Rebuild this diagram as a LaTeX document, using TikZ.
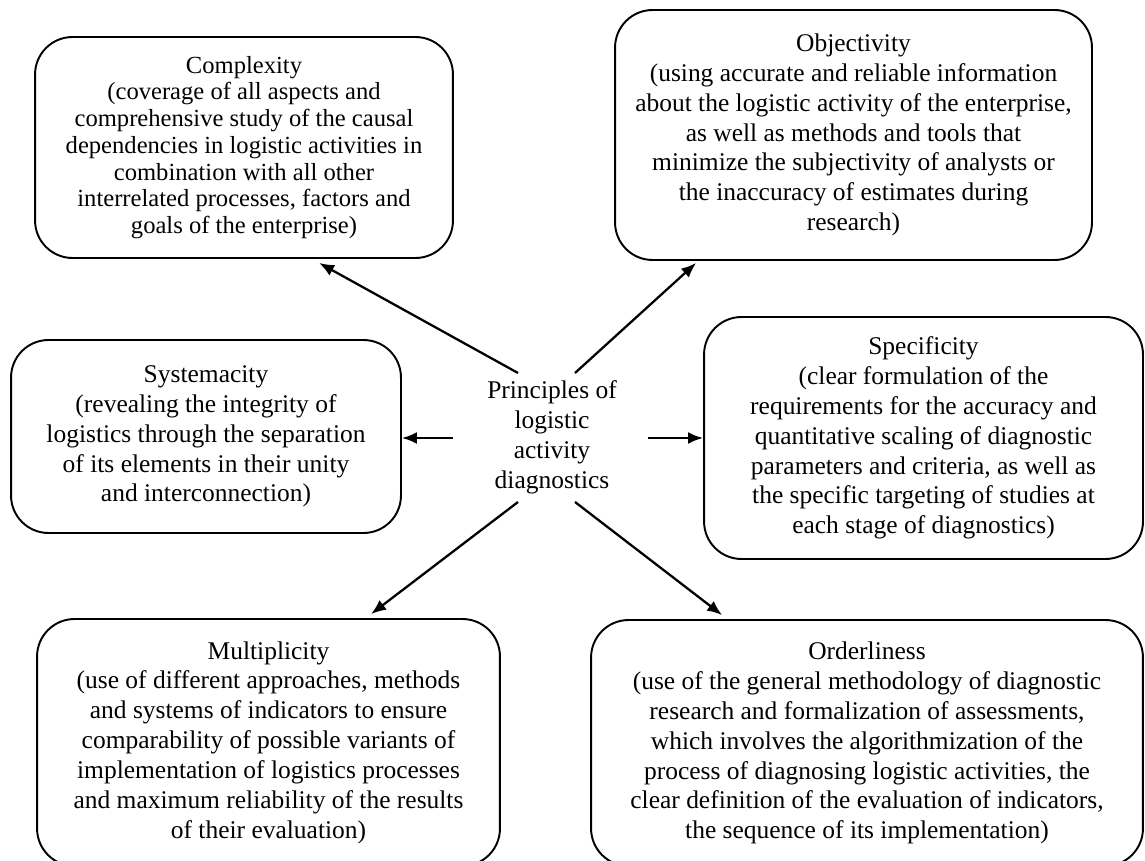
\documentclass[tikz,border=0pt]{standalone}
\usepackage{fontspec}
\setmainfont{Liberation Serif}
\usetikzlibrary{arrows.meta,calc}
\begin{document}
\begin{tikzpicture}[x=0.02cm, y=-0.02cm,
  pbox/.style={draw, line width=1.1pt, rounded corners=0.75cm, inner sep=0pt, align=center,
    font=\fontsize{14.5}{17}\selectfont},
  parr/.style={-{Latex[length=3mm,width=2.4mm]}, line width=1.3pt}]
\useasboundingbox (0,0) rectangle (1145,861);
\node[align=center, font=\fontsize{14.5}{17}\selectfont] (prin) at (552,437){Principles of\\logistic\\activity\\diagnostics};
\node[pbox, minimum width=8.36cm, minimum height=4.42cm, font=\fontsize{14}{15.2}\selectfont] (comp) at (244,147.5){Complexity\\(coverage of all aspects and\\comprehensive study of the causal\\dependencies in logistic activities in\\combination with all other\\interrelated processes, factors and\\goals of the enterprise)};
\node[pbox, minimum width=9.54cm, minimum height=5cm] (obj) at (853.5,135){Objectivity\\(using accurate and reliable information\\about the logistic activity of the enterprise,\\as well as methods and tools that\\minimize the subjectivity of analysts or\\the inaccuracy of estimates during\\research)};
\node[pbox, minimum width=7.8cm, minimum height=3.86cm] (sys) at (206,436.5){Systemacity\\(revealing the integrity of\\logistics through the separation\\of its elements in their unity\\and interconnection)};
\node[pbox, minimum width=8.78cm, minimum height=4.84cm] (spec) at (923.5,438){Specificity\\(clear formulation of the\\requirements for the accuracy and\\quantitative scaling of diagnostic\\parameters and criteria, as well as\\the specific targeting of studies at\\each stage of diagnostics)};
\node[pbox, minimum width=9.26cm, minimum height=4.94cm] (mult) at (268.5,742.5){Multiplicity\\(use of different approaches, methods\\and systems of indicators to ensure\\comparability of possible variants of\\implementation of logistics processes\\and maximum reliability of the results\\of their evaluation)};
\node[pbox, minimum width=11.04cm, minimum height=4.92cm] (ord) at (867,743){Orderliness\\(use of the general methodology of diagnostic\\research and formalization of assessments,\\which involves the algorithmization of the\\process of diagnosing logistic activities, the\\clear definition of the evaluation of indicators,\\the sequence of its implementation)};
\coordinate (ul) at (518,373);
\coordinate (ur) at (575,373);
\coordinate (lft) at (453,438);
\coordinate (rgt) at (648,438);
\coordinate (ll) at (518,502);
\coordinate (lr) at (575,502);
\draw[parr] (ul) -- ($(comp.south west)+(285,4)$);
\draw[parr] (ur) -- ($(obj.south west)+(82,2)$);
\draw[parr] (lft) -- (lft -| sys.east);
\draw[parr] (rgt) -- (rgt -| spec.west);
\draw[parr] (ll) -- ($(mult.north west)+(335,-4)$);
\draw[parr] (lr) -- ($(ord.north west)+(132,-4)$);
\end{tikzpicture}
\end{document}
